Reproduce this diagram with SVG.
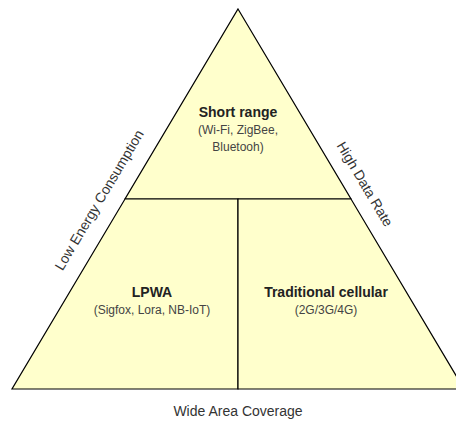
<svg xmlns="http://www.w3.org/2000/svg" width="456" height="423" viewBox="0 0 456 423">
  <style>
    .seg { fill: #ffffcc; stroke: #000000; stroke-width: 1.2; stroke-linejoin: miter; }
    .title { font-family: "Liberation Sans", Arial, sans-serif; font-size: 14px; font-weight: bold; fill: #222222; text-anchor: middle; }
    .sub { font-family: "Liberation Sans", Arial, sans-serif; font-size: 12px; fill: #444444; text-anchor: middle; }
    .axis { font-family: "Liberation Sans", Arial, sans-serif; font-size: 14px; fill: #333333; text-anchor: middle; }
  </style>
  <rect width="456" height="423" fill="#ffffff"/>

  <!-- pyramid segments -->
  <g id="short-range">
    <polygon class="seg" points="238,9 351,199 125,199"/>
    <text class="title" x="238" y="117">Short range</text>
    <text class="sub" x="238" y="134">(Wi-Fi, ZigBee,</text>
    <text class="sub" x="238" y="151">Bluetooh)</text>
  </g>

  <g id="lpwa">
    <polygon class="seg" points="125,199 238,199 238,389 12,389"/>
    <text class="title" x="152" y="297">LPWA</text>
    <text class="sub" x="152" y="314">(Sigfox, Lora, NB-IoT)</text>
  </g>

  <g id="cellular">
    <polygon class="seg" points="238,199 351,199 464,389 238,389"/>
    <text class="title" x="326" y="297">Traditional cellular</text>
    <text class="sub" x="326" y="314">(2G/3G/4G)</text>
  </g>

  <!-- axis labels along the pyramid sides -->
  <g id="axis-left">
    <text class="axis" transform="translate(99,200) rotate(-59.3)" x="0" y="5">Low Energy Consumption</text>
  </g>
  <g id="axis-right">
    <text class="axis" transform="translate(365,184) rotate(59.3)" x="0" y="5">High Data Rate</text>
  </g>
  <g id="axis-bottom">
    <text class="axis" x="238" y="416">Wide Area Coverage</text>
  </g>

  <g id="connectors"/>
</svg>
